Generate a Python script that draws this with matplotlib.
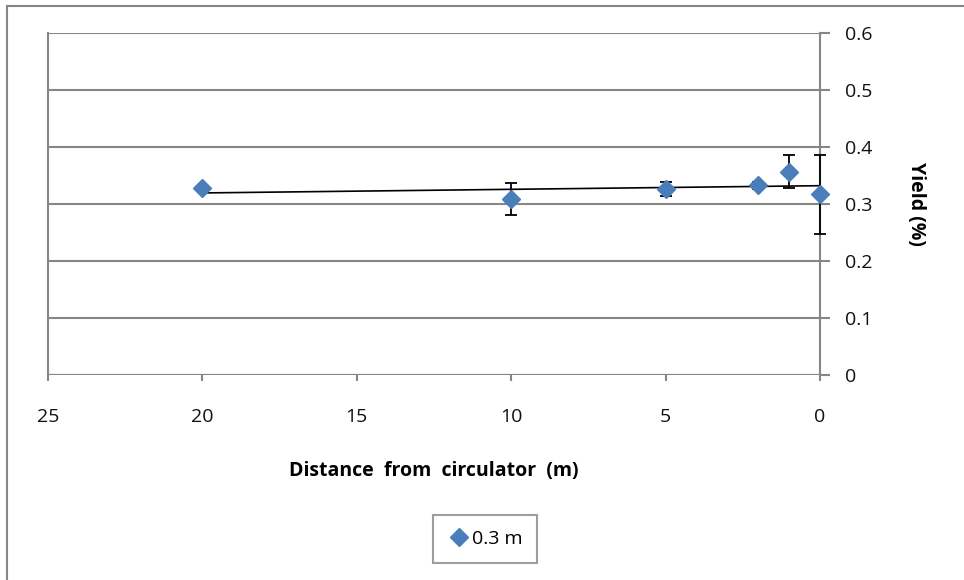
import numpy as np
import matplotlib
matplotlib.use("Agg")
import matplotlib.pyplot as plt
from matplotlib.patches import Rectangle

plt.rcParams['font.family'] = ['Open Sans', 'DejaVu Sans']

# distance from circulator (m) and yield (%)
distance = [20, 10, 5, 2, 1, 0]
yield_pct = [0.3275, 0.308, 0.326, 0.333, 0.357, 0.317]
yield_err = [0.003, 0.028, 0.012, 0.006, 0.029, 0.069]
x_ticks = [25, 20, 15, 10, 5, 0]
y_ticks = [0, 0.1, 0.2, 0.3, 0.4, 0.5, 0.6]

GRAY = '#868686'
BLUE = '#4A7EBB'

fig = plt.figure(figsize=(9.64, 5.8), dpi=100)
# outer chart border (cut off at right and bottom)
fig.patches.append(Rectangle((7 / 964, -0.1), 1.2, 1.1 - 6 / 580,
                             transform=fig.transFigure, fill=False,
                             edgecolor=GRAY, linewidth=1.5))

ax = fig.add_axes([48 / 964, 1 - 375 / 580, (820 - 48) / 964, (375 - 33) / 580])

# linear trendline
coef = np.polyfit(distance, yield_pct, 1)
xs = np.array([max(distance), min(distance)])
ax.plot(xs, np.polyval(coef, xs), color='black', linewidth=1.2, zorder=3)

eb = ax.errorbar(distance, yield_pct, yerr=yield_err, fmt='none', ecolor='black',
                 elinewidth=1.3, capsize=4.5, capthick=1.3, zorder=4)
for art in eb.lines[1] + eb.lines[2]:
    art.set_clip_on(False)
ax.plot(distance, yield_pct, linestyle='none', marker='D', markersize=9,
        color=BLUE, label='0.3 m', zorder=5, clip_on=False)

ax.set_xlim(25, 0)
ax.set_ylim(0, 0.6)
ax.set_xticks(x_ticks)
ax.set_xticklabels([str(t) for t in x_ticks])
ax.set_yticks(y_ticks)
ax.set_yticklabels(['0'] + ['%.1f' % t for t in y_ticks[1:]])

ax.yaxis.tick_right()
ax.yaxis.set_label_position('right')
ax.grid(axis='y', color=GRAY, linewidth=1.5)
ax.set_axisbelow(True)

for side in ['top', 'bottom']:
    ax.spines[side].set_visible(False)
ax.spines['left'].set_color(GRAY)
ax.spines['left'].set_linewidth(1.5)
ax.spines['right'].set_color(GRAY)
ax.spines['right'].set_linewidth(1.5)
ax.axhline(0, color=GRAY, linewidth=1.5, zorder=1)

ax.tick_params(axis='x', direction='out', length=4, width=1.5, color=GRAY,
               labelsize=14, pad=20, bottom=True, labelcolor='#111111')
ax.tick_params(axis='y', direction='out', length=7, width=1.5, color=GRAY,
               labelsize=14, pad=11, labelcolor='#111111')

ax.set_xlabel('Distance  from  circulator  (m)', fontsize=14, fontweight='bold',
              labelpad=25)
ax.set_ylabel('Yield (%)', fontsize=14, fontweight='bold', rotation=-90,
              labelpad=24, va='bottom')

leg = ax.legend(loc='center', bbox_to_anchor=(485 / 964, 1 - 539 / 580),
                bbox_transform=fig.transFigure, frameon=True, fancybox=False,
                fontsize=14, handletextpad=0.05, handlelength=1.2,
                borderpad=0.75)
leg.get_frame().set_edgecolor(GRAY)
leg.get_frame().set_linewidth(1.5)

fig.savefig('out.png', dpi=100)
